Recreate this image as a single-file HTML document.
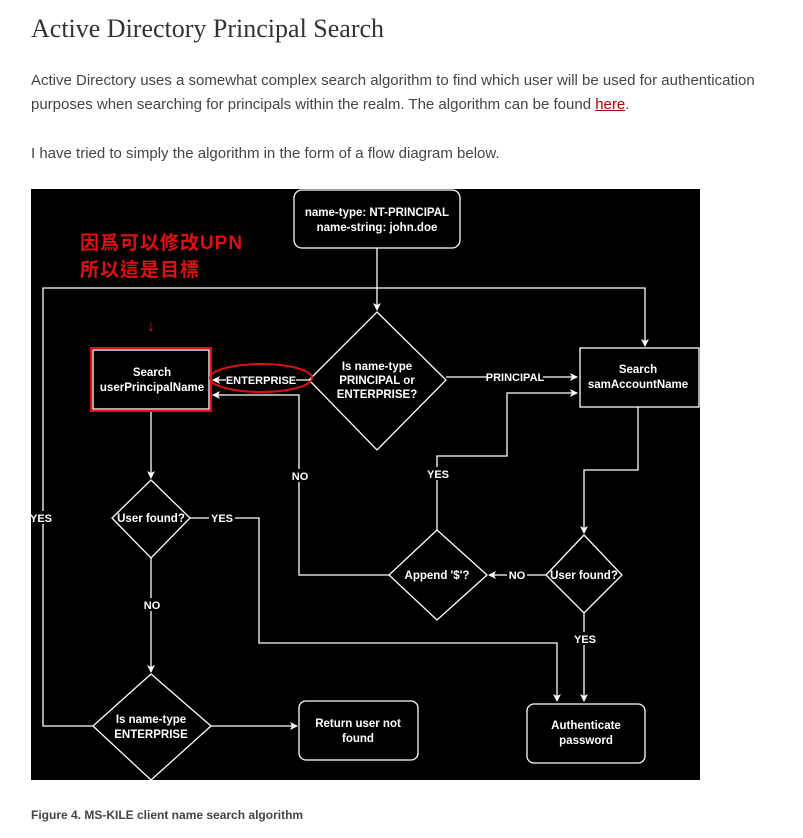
<!DOCTYPE html>
<html><head><meta charset="utf-8"><style>
body{margin:0;background:#fff;width:803px;height:838px;position:relative;overflow:hidden}
.h{position:absolute;left:31px;top:14px;font-family:"Liberation Serif",serif;font-size:26px;color:#333}
.p{position:absolute;left:31px;font-family:"Liberation Sans",sans-serif;font-size:15px;color:#444;line-height:24px}
.cap{position:absolute;left:31px;top:808px;font-family:"Liberation Sans",sans-serif;font-size:12px;font-weight:bold;color:#444}
svg{position:absolute;left:0;top:0}
</style></head><body>
<div class="h">Active Directory Principal Search</div>
<div class="p" style="top:69px">Active Directory uses a somewhat complex search algorithm to find which user will be used for authentication<br>purposes when searching for principals within the realm. The algorithm can be found <span style="color:#a00;text-decoration:underline">here</span>.</div>
<div class="p" style="top:142px">I have tried to simply the algorithm in the form of a flow diagram below.</div>
<div class="cap">Figure 4. MS-KILE client name search algorithm</div>
<svg width="803" height="838" font-family="Liberation Sans, Arial, sans-serif" font-weight="bold" font-size="11.5">
<defs><marker id="a" markerWidth="8" markerHeight="8" refX="7" refY="4" orient="auto" markerUnits="userSpaceOnUse"><path d="M0,0L8,4L0,8L2,4z" fill="#fff"/></marker></defs>
<rect x="31" y="189" width="669" height="591" fill="#000"/>
<g stroke="#fff" stroke-width="1.3" fill="none">
<rect x="294" y="190" width="166" height="58" rx="8"/>
<path d="M377,248V310" marker-end="url(#a)"/>
<path d="M377,312L446,380L377,450L309,380Z"/>
<rect x="93" y="350" width="116" height="59"/>
<rect x="580" y="348" width="119" height="59"/>
<path d="M309,380H213" marker-end="url(#a)"/>
<path d="M446,377H577" marker-end="url(#a)"/>
<path d="M389,575H299V395H213" marker-end="url(#a)"/>
<path d="M437,530V456H507V393H577" marker-end="url(#a)"/>
<path d="M638,407V470H584V533" marker-end="url(#a)"/>
<path d="M584,535L622,575L584,613L546,575Z"/>
<path d="M437,530L487,575L437,620L389,575Z"/>
<path d="M546,575H489" marker-end="url(#a)"/>
<path d="M584,613V701" marker-end="url(#a)"/>
<rect x="527" y="704" width="118" height="59" rx="7"/>
<path d="M151,411V478" marker-end="url(#a)"/>
<path d="M151,480L190,518L151,558L112,518Z"/>
<path d="M190,518H259V643H557V701" marker-end="url(#a)"/>
<path d="M151,558V672" marker-end="url(#a)"/>
<path d="M151,674L211,726L151,780L93,726Z"/>
<path d="M211,726H297" marker-end="url(#a)"/>
<rect x="299" y="701" width="119" height="59" rx="7"/>
<path d="M93,726H43V288H645V346" marker-end="url(#a)"/>
</g>
<rect x="91" y="348" width="120" height="63" fill="none" stroke="#e01010" stroke-width="2"/>
<ellipse cx="261" cy="378" rx="51" ry="14" fill="none" stroke="#e01010" stroke-width="2"/>
<g fill="#fff" text-anchor="middle">
<text x="377" y="216">name-type: NT-PRINCIPAL</text>
<text x="377" y="231">name-string: john.doe</text>
<text x="377" y="370">Is name-type</text>
<text x="377" y="384">PRINCIPAL or</text>
<text x="377" y="398">ENTERPRISE?</text>
<text x="152" y="376">Search</text>
<text x="152" y="391">userPrincipalName</text>
<text x="638" y="373">Search</text>
<text x="638" y="388">samAccountName</text>
<g font-size="11"><rect x="226" y="373" width="70" height="13" fill="#000"/><text x="261" y="384">ENTERPRISE</text>
<rect x="487" y="370" width="56" height="13" fill="#000"/><text x="515" y="381">PRINCIPAL</text>
<rect x="289" y="469" width="22" height="13" fill="#000"/><text x="300" y="480">NO</text>
<rect x="427" y="467" width="22" height="13" fill="#000"/><text x="438" y="478">YES</text>
<rect x="507" y="568" width="20" height="13" fill="#000"/><text x="517" y="579">NO</text>
<rect x="574" y="632" width="22" height="13" fill="#000"/><text x="585" y="643">YES</text>
<rect x="209" y="511" width="26" height="13" fill="#000"/><text x="222" y="522">YES</text>
<rect x="141" y="598" width="22" height="13" fill="#000"/><text x="152" y="609">NO</text>
<rect x="31" y="511" width="22" height="13" fill="#000"/><text x="41" y="522">YES</text></g>
<text x="584" y="579">User found?</text>
<text x="437" y="579">Append '$'?</text>
<text x="151" y="522">User found?</text>
<text x="151" y="723">Is name-type</text>
<text x="151" y="738">ENTERPRISE</text>
<text x="358" y="727">Return user not</text>
<text x="358" y="742">found</text>
<text x="586" y="729">Authenticate</text>
<text x="586" y="744">password</text>
</g>
<g fill="#e01010" font-family="Liberation Sans, Noto Sans CJK TC, sans-serif" font-size="19" font-weight="bold">
<text x="80" y="249" letter-spacing="1">因爲可以修改UPN</text>
<text x="80" y="276" letter-spacing="1">所以這是目標</text>
<text x="151" y="331" text-anchor="middle" font-size="16" font-weight="normal">↓</text>
</g>
</svg>
</body></html>
